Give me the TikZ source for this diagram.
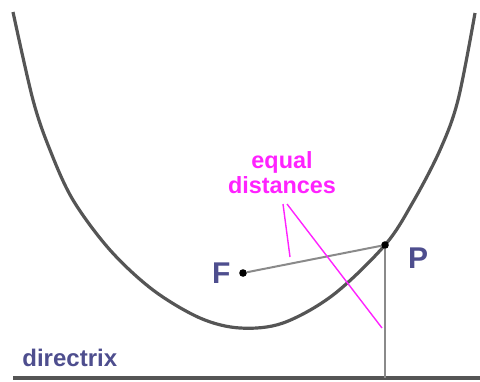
\documentclass[tikz,border=0pt]{standalone}
\usepackage{fontspec}
\setmainfont{Liberation Sans}
\definecolor{CurveGray}{HTML}{555555}
\definecolor{LineGray}{HTML}{8A8A8A}
\definecolor{LabelSlate}{HTML}{4E4E8E}
\definecolor{NoteMagenta}{HTML}{FF22FF}
\usetikzlibrary{positioning}
\tikzset{
    dot/.style={circle,fill=black,inner sep=0pt,minimum size=3.8pt},
    ptlabel/.style={text=LabelSlate,font=\fontsize{15}{15}\selectfont\bfseries,inner sep=0pt},
    noteline/.style={draw=NoteMagenta,line width=0.7pt}
}

\begin{document}
\begin{tikzpicture}[x=0.5pt,y=-0.5pt]
    \useasboundingbox (0,0) rectangle (480,381);

    % the parabola
    \draw[CurveGray,line width=1.6pt] plot[smooth,tension=0.55] coordinates {
      (13,12) (33,100) (50,150) (73,200) (110,250) (153,290) (200,318) (240,328)
      (283,323) (333,295) (385,245) (413,202) (440,150) (458,100) (475,13)};

    % directrix
    \coordinate (dirL) at (13,378);
    \coordinate (dirR) at (480,378);
    \draw[CurveGray,line width=2pt] (dirL) -- (dirR);
    \node[text=LabelSlate,font=\fontsize{12}{12}\selectfont\bfseries,anchor=base west,inner sep=0pt]
      (dirlabel) at (22,366) {directrix};

    % focus and point
    \node[dot] (focus) at (243,273) {};
    \node[ptlabel,left=4pt of focus] (flabel) {F};
    \node[dot] (point) at (385,245) {};
    \node[ptlabel] (plabel) at (418,258) {P};
    \coordinate (foot) at (385,378);
    \draw[LineGray,line width=1pt] (focus) -- (point);
    \draw[LineGray,line width=1pt] (point) -- (foot);

    % note
    \node[text=NoteMagenta,font=\fontsize{11.7}{12.5}\selectfont\bfseries,align=center,inner sep=0pt]
      (note) at (282,173) {equal\\distances};
    \coordinate (noteA) at (283,204);
    \coordinate (noteB) at (290,257);
    \coordinate (noteC) at (287,204);
    \coordinate (noteD) at (382,328);
    \draw[noteline] (noteA) -- (noteB);
    \draw[noteline] (noteC) -- (noteD);
\end{tikzpicture}
\end{document}
